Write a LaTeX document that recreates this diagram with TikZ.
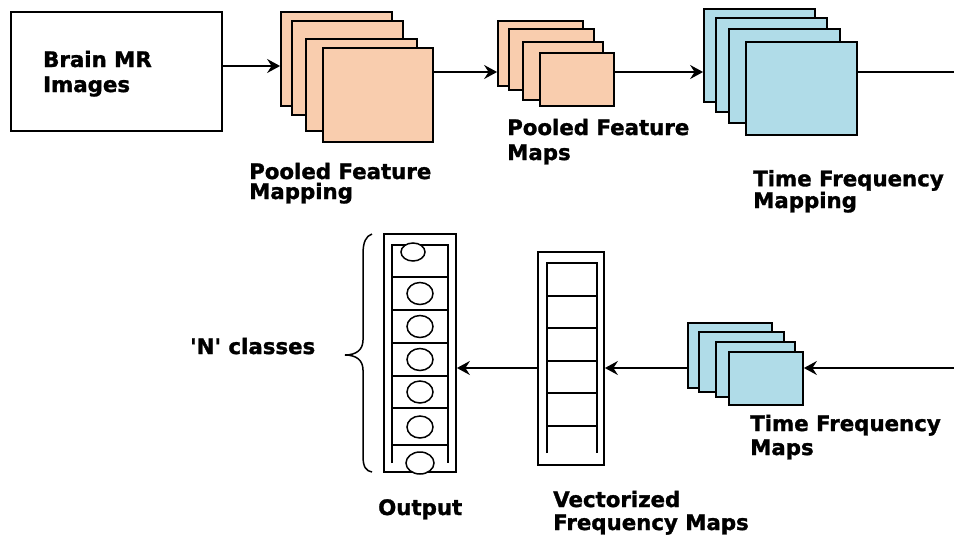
\documentclass[tikz,border=0pt]{standalone}
\usepackage{fontspec}
\newfontfamily\lbl{DejaVu Sans}[BoldFeatures={FakeBold=1.4}]
\usetikzlibrary{arrows.meta,calc,shapes.geometric}

\definecolor{peach}{HTML}{F9CDAE}
\definecolor{skyfill}{HTML}{B0DCE8}

\tikzset{
  edge/.style={line width=1.8pt},
  arrow/.style={edge,-{Stealth[length=13pt,width=14pt,inset=4.5pt]}},
  sheet/.style={draw,line width=1.8pt,rectangle,inner sep=0pt},
  lab/.style={align=left,anchor=base west,inner sep=0pt,
    font=\lbl\bfseries\fontsize{21.3}{25}\selectfont},
  tight/.style={font=\lbl\bfseries\fontsize{21.3}{20}\selectfont},
  cell/.style={draw,line width=1.5pt,fill=white,ellipse,inner sep=0pt},
}

% one stacked feature-map sheet given by its corners
\newcommand\mapsheet[6]{%
  \node[sheet,fill=#2,minimum width={#5-#3},minimum height={#6-#4}]
    (#1) at ({(#3+#5)/2},{(#4+#6)/2}) {};}

\begin{document}
\begin{tikzpicture}[x=1pt,y=-1pt]
\useasboundingbox (0,0) rectangle (954,539);

% input box (labels are anchored at the baseline of their last line)
\node[sheet,fill=white,minimum width=211,minimum height=119] (mri) at (116.5,71.5) {};
\node[lab] (mritxt) at (43,92) {Brain MR\\Images};

% pooled feature mapping
\mapsheet{a1}{peach}{281}{12}{392}{106}
\mapsheet{a2}{peach}{292}{21}{403}{115}
\mapsheet{a3}{peach}{306}{39}{417}{131}
\mapsheet{a4}{peach}{323}{48}{433}{142}
\node[lab,tight] (atxt) at (249,199) {Pooled Feature\\Mapping};

% pooled feature maps
\mapsheet{b1}{peach}{498}{21}{583}{86}
\mapsheet{b2}{peach}{509}{29}{594}{90}
\mapsheet{b3}{peach}{523}{42}{603}{100}
\mapsheet{b4}{peach}{540}{53}{614}{106}
\node[lab] (btxt) at (507,160) {Pooled Feature\\Maps};

% time frequency mapping
\mapsheet{c1}{skyfill}{704}{9}{815}{102}
\mapsheet{c2}{skyfill}{716}{18}{827}{112}
\mapsheet{c3}{skyfill}{729}{29}{840}{123}
\mapsheet{c4}{skyfill}{746}{42}{857}{135}
\node[lab,tight] (ctxt) at (753,208) {Time Frequency\\Mapping};

% time frequency maps
\mapsheet{d1}{skyfill}{688}{323}{772}{388}
\mapsheet{d2}{skyfill}{699}{332}{784}{392}
\mapsheet{d3}{skyfill}{716}{342}{795}{397}
\mapsheet{d4}{skyfill}{729}{352}{803}{405}
\node[lab,font=\lbl\bfseries\fontsize{21.3}{24}\selectfont] (dtxt) at (750,455) {Time Frequency\\Maps};

% vectorized frequency maps
\node[sheet,minimum width=66,minimum height=213] (vec) at (571,358.5) {};
\draw[edge] (547,453) -- (547,263) -- (597,263) -- (597,453);
\foreach \yy in {296,328,361,393,426}
  \draw[edge] (547,\yy) -- (597,\yy);
\node[lab,font=\lbl\bfseries\fontsize{21.3}{23}\selectfont] (vtxt) at (553,530) {Vectorized\\Frequency Maps};

% output layer
\node[sheet,minimum width=72,minimum height=238] (out) at (420,353) {};
\draw[edge] (392,463) -- (392,245) -- (448,245) -- (448,463);
\foreach \yy in {277,310,343,376,408,445}
  \draw[edge] (392,\yy) -- (448,\yy);
\node[cell,minimum width=24,minimum height=18] (o1) at (413,252) {};
\foreach \i/\yy in {2/293.5,3/326.5,4/359.5,5/392,6/427}
  \node[cell,minimum width=26,minimum height=22] (o\i) at (420,\yy) {};
\node[cell,minimum width=28,minimum height=22] (o7) at (420,463) {};
\node[lab] (otxt) at (378,515) {Output};

% class brace
\draw[line width=1.5pt] (372,234) .. controls (366,236) and (363,242) .. (363,254)
  -- (363,340) .. controls (363,350) and (356,355) .. (345,355)
  .. controls (356,355) and (363,360) .. (363,370)
  -- (363,456) .. controls (363,467) and (366,471) .. (372,472);
\node[lab] (ntxt) at (190,354) {\textquotesingle N\textquotesingle\ classes};

% row levels and free ends
\coordinate (row0) at (0,66);
\coordinate (row1) at (0,72);
\coordinate (row2) at (0,368);
\coordinate (edgeR1) at (954,72);
\coordinate (edgeR2) at (954,368);

% connectors
\draw[arrow] (mri.east |- row0) -- (a1.west |- row0);
\draw[arrow] (a4.east |- row1) -- (b1.west |- row1);
\draw[arrow] (b4.east |- row1) -- (c1.west |- row1);
\draw[edge] (c4.east |- row1) -- (edgeR1);
\draw[arrow] (edgeR2) -- (d4.east |- row2);
\draw[arrow] (d1.west |- row2) -- (vec.east |- row2);
\draw[arrow] (vec.west |- row2) -- (out.east |- row2);
\end{tikzpicture}
\end{document}
